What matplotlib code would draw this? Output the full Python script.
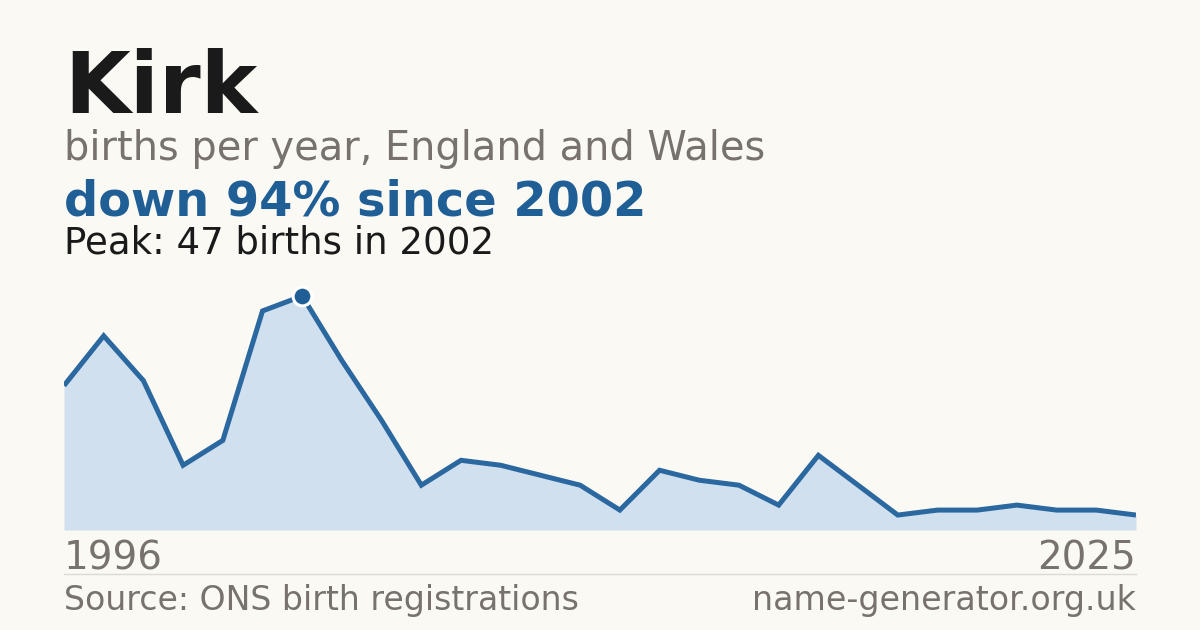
import matplotlib
matplotlib.use("Agg")
import matplotlib.pyplot as plt
from matplotlib.lines import Line2D

# ---- data ----
births = [29, 39, 30, 13, 18, 44, 47, 34, 22, 9, 14, 13, 11, 9, 4, 12, 10, 9, 5, 15, 9, 3, 4, 4, 5, 4, 4, 3]
first_year = "1996"
last_year = "2025"
peak_index = 6
name = "Kirk"
subtitle = "births per year, England and Wales"
headline = "down 94% since 2002"
peak_text = "Peak: 47 births in 2002"
source = "Source: ONS birth registrations"
site = "name-generator.org.uk"

BG = "#faf9f4"
BLUE = "#1f5f96"
LINE = "#2b68a0"
FILL = "#d0e0ef"
GRAY = "#77726b"
DARK = "#1a1a1a"

W, H = 1200, 630
fig = plt.figure(figsize=(W / 100, H / 100), dpi=100, facecolor=BG)
renderer = fig.canvas.get_renderer()


def ftext(x, y, s, width=None, **kw):
    t = fig.text(x / W, 1 - y / H, s, va="baseline", family="DejaVu Sans", **kw)
    if width is not None:
        for _ in range(3):
            bb = t.get_window_extent(renderer)
            t.set_fontsize(t.get_fontsize() * width / bb.width)
    return t


ftext(64, 113, name, width=193, fontsize=60, fontweight="bold", color=DARK)
ftext(64, 160, subtitle, width=701, fontsize=24, color=GRAY)
ftext(64, 215, headline, width=582, fontsize=27, fontweight="bold", color=BLUE)
ftext(64, 253, peak_text, width=431, fontsize=23, color=DARK)
t1 = ftext(64, 570, first_year, width=99, fontsize=28, color=GRAY)
ftext(1136, 570, last_year, fontsize=t1.get_fontsize(), color=GRAY, ha="right")
ftext(64, 610, source, width=516, fontsize=23, color=GRAY)
ftext(1136, 610, site, width=384, fontsize=23, color=GRAY, ha="right")

fig.add_artist(Line2D([64 / W, 1136 / W], [1 - 574 / H, 1 - 574 / H],
                      color="#dedad2", lw=1))

ax = fig.add_axes([64 / W, (H - 530) / H, 1072 / W, 234 / H])
ax.set_facecolor("none")
x = list(range(len(births)))
ax.fill_between(x, births, 0, color=FILL, lw=0)
ax.plot(x, births, color=LINE, lw=3.6, solid_joinstyle="miter", solid_capstyle="butt")
ax.axhline(0, color="#dcdcdc", lw=1)
ax.plot([x[peak_index]], [births[peak_index]], "o", ms=13.5, color=BLUE,
        mec="white", mew=2.2, clip_on=False, zorder=5)
ax.set_xlim(0, len(births) - 1)
ax.set_ylim(0, max(births))
ax.axis("off")

fig.savefig("out.png", dpi=100, facecolor=BG)
